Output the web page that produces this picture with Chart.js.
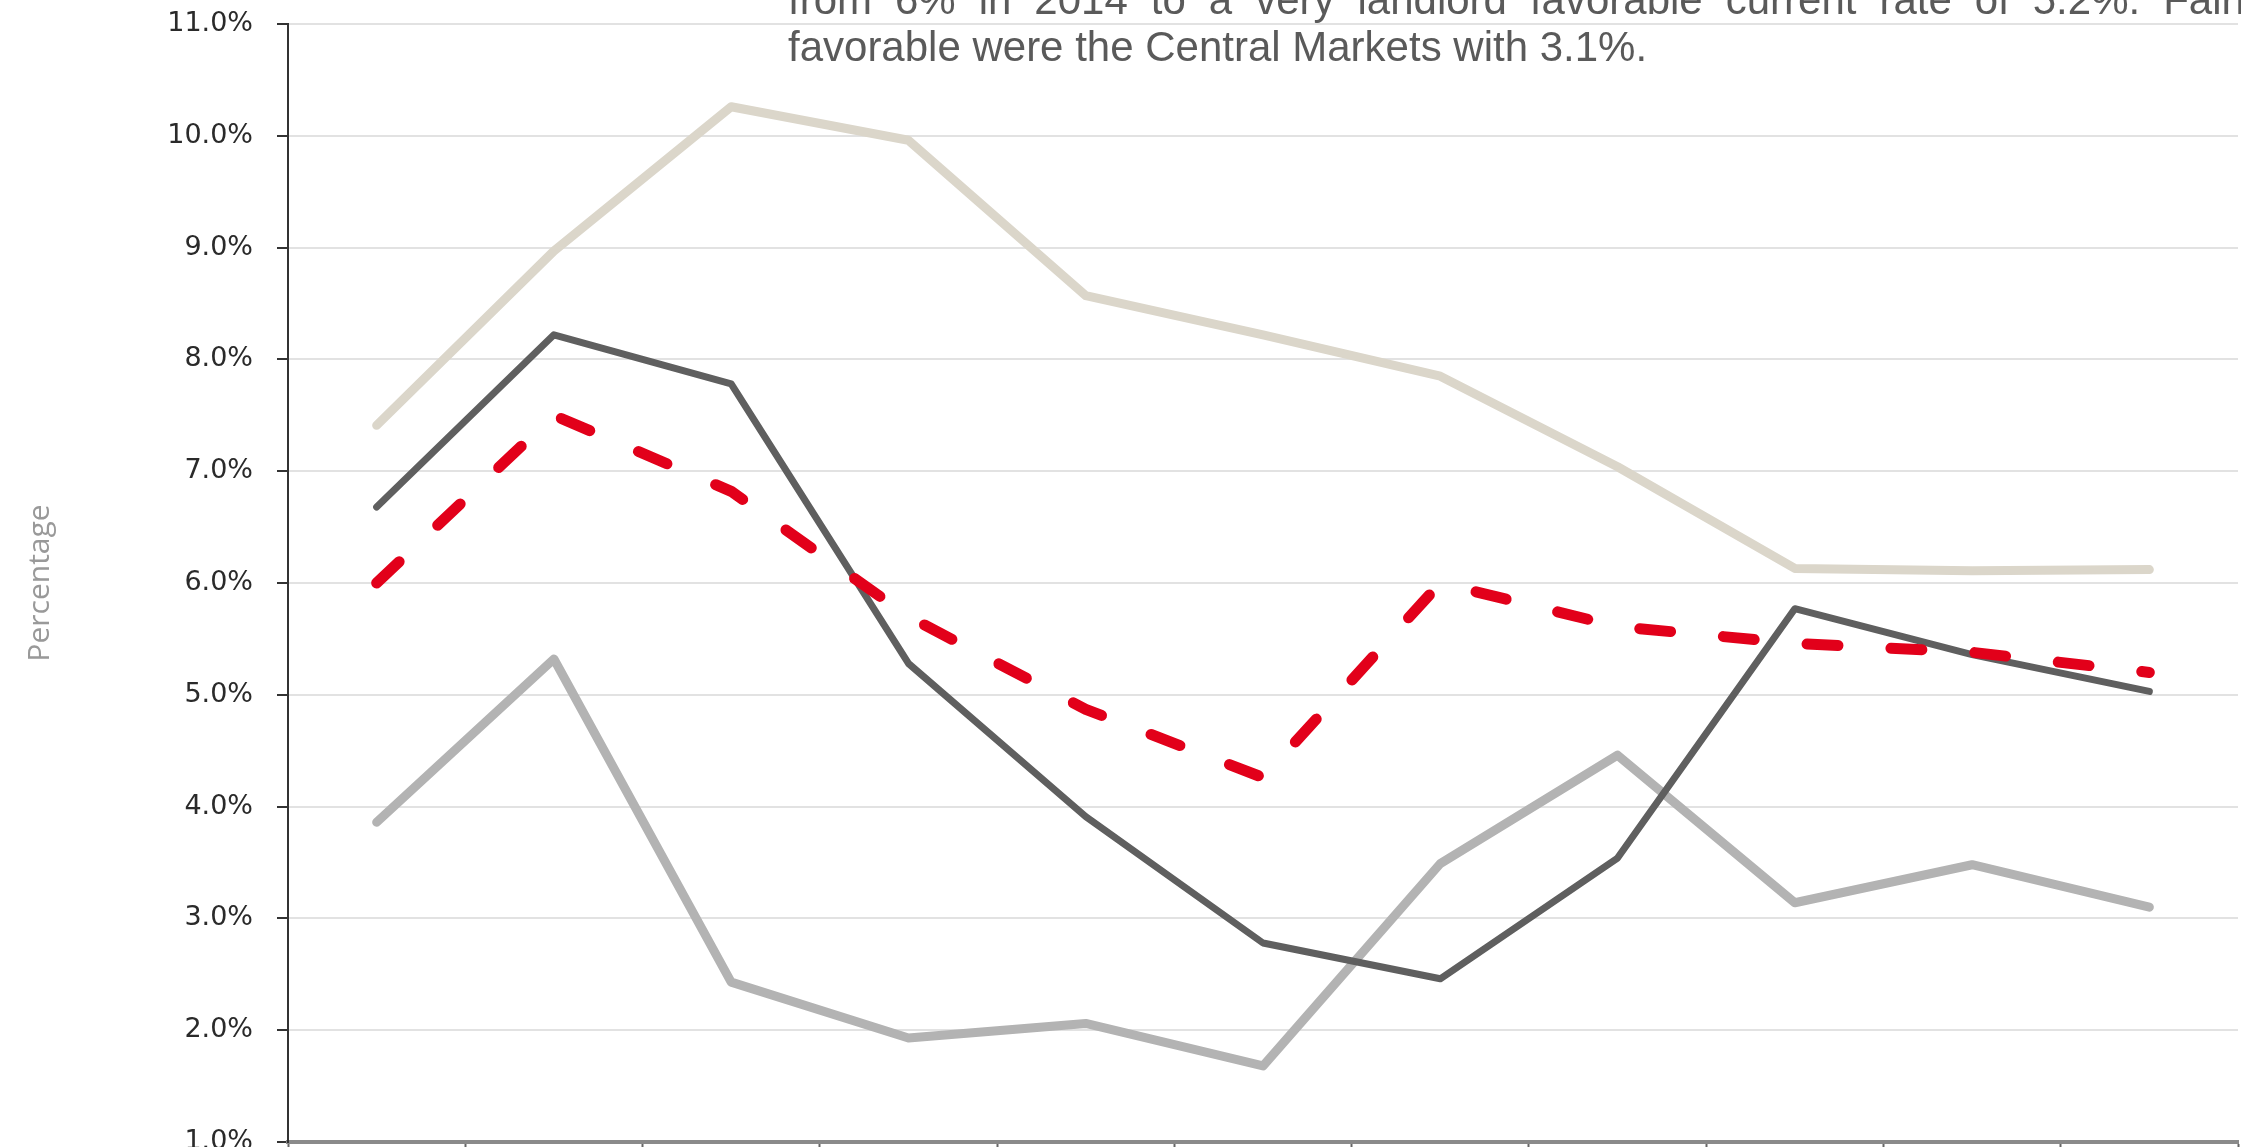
<!DOCTYPE html>
<html>
<head>
<meta charset="utf-8">
<script src="https://cdn.jsdelivr.net/npm/chart.js@4.4.1/dist/chart.umd.min.js"></script>
<style>
  html, body { margin: 0; padding: 0; background: #fff; overflow: hidden; }
  #wrap { position: relative; width: 2241px; height: 1147px; }
  #rentChart { position: absolute; left: 0; top: 0; }
  .note-line {
    position: absolute;
    font-family: "Liberation Sans", Arial, sans-serif;
    font-size: 42px;
    line-height: 44px;
    color: #5a5a5a;
    white-space: nowrap;
  }
  #noteLine1 { left: 788px; top: -22px; width: 1478px; display: flex; justify-content: space-between; }
  #noteLine2 { left: 788px; top: 25px; }
</style>
</head>
<body>
<div id="wrap">
  <canvas id="rentChart" width="2241" height="1147"></canvas>
  <div id="noteLine1" class="note-line"></div>
  <div id="noteLine2" class="note-line">favorable were the Central Markets with 3.1%.</div>
</div>
<script>
const years = ["2008", "2009", "2010", "2011", "2012", "2013", "2014", "2015", "2016", "2017", "2018"];

// market series, percent
const beigeSeries = [7.41, 8.97, 10.26, 9.96, 8.57, 8.22, 7.85, 7.04, 6.13, 6.11, 6.12];
const lightGraySeries = [3.86, 5.32, 2.43, 1.93, 2.06, 1.68, 3.49, 4.46, 3.14, 3.48, 3.1];
const darkGraySeries = [6.68, 8.22, 7.78, 5.28, 3.91, 2.78, 2.46, 3.54, 5.77, 5.36, 5.03];
const averageSeries = [6.0, 7.5, 6.82, 5.7, 4.87, 4.26, 6.0, 5.61, 5.46, 5.38, 5.2];

const yMin = 1;
const yMax = 11;

const firstLine = "from 6% in 2014 to a very landlord favorable current rate of 5.2%. Fairly";

function byId(id) {
  return document.getElementById(id);
}

// justified first line of the paragraph
firstLine.split(" ").forEach((w) => {
  const s = document.createElement("span");
  s.textContent = w;
  byId("noteLine1").appendChild(s);
});

function series(data, color, width, dash) {
  return {
    data,
    borderColor: color,
    borderWidth: width,
    borderDash: dash || [],
    borderCapStyle: "round",
    borderJoinStyle: "round",
    pointRadius: 0,
    pointHoverRadius: 0,
    fill: false,
    tension: 0
  };
}

new Chart(byId("rentChart"), {
  type: "line",
  data: {
    labels: years,
    // lower order draws on top
    datasets: [
      series(averageSeries, "#e2001a", 11, [31, 53]),
      series(darkGraySeries, "#5f5f5f", 7),
      series(lightGraySeries, "#b3b3b3", 9),
      series(beigeSeries, "#dbd6ca", 9)
    ].map((d, i) => ({ ...d, order: i }))
  },
  options: {
    responsive: false,
    animation: false,
    layout: { padding: { top: 24, right: 3, bottom: 0, left: 0 } },
    plugins: { legend: { display: false }, tooltip: { enabled: false } },
    scales: {
      x: {
        offset: true,
        ticks: { display: false },
        grid: {
          offset: true,
          drawOnChartArea: false,
          drawTicks: true,
          tickLength: 5,
          tickColor: "#666",
          tickWidth: 2
        },
        border: { color: "#8a8a8a", width: 4 },
        afterFit: (scale) => { scale.height = 5; }
      },
      y: {
        min: yMin,
        max: yMax,
        ticks: {
          stepSize: 1,
          padding: 24,
          color: "#2a2a2a",
          font: { family: "DejaVu Sans", size: 27 },
          callback: (v) => v.toFixed(1) + "%"
        },
        grid: {
          color: "#e2e2e2",
          lineWidth: 2,
          tickLength: 11,
          tickColor: "#333",
          tickWidth: 2
        },
        border: { color: "#333", width: 2 },
        title: {
          display: true,
          text: "Percentage",
          color: "#999",
          font: { family: "Open Sans", size: 30 },
          padding: { top: 22, bottom: 0 }
        },
        afterFit: (scale) => {
          scale.width = 288;
          scale.paddingTop = 0;
          scale.paddingBottom = 0;
        }
      }
    }
  }
});
</script>
</body>
</html>
